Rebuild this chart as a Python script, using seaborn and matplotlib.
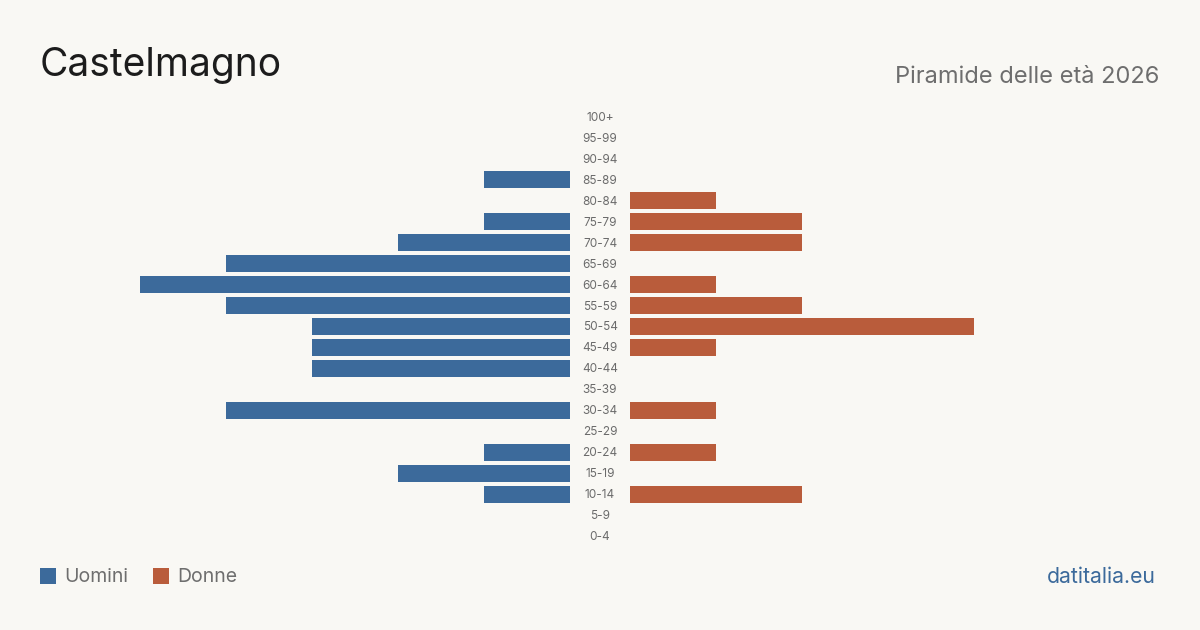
import matplotlib.pyplot as plt
import pandas as pd
import seaborn as sns
from matplotlib.patches import Rectangle

AGE_GROUPS = [
	"100+", "95-99", "90-94", "85-89", "80-84", "75-79", "70-74", "65-69",
	"60-64", "55-59", "50-54", "45-49", "40-44", "35-39", "30-34", "25-29",
	"20-24", "15-19", "10-14", "5-9", "0-4",
]
MEN = [0, 0, 0, 1, 0, 1, 2, 4, 5, 4, 3, 3, 3, 0, 4, 0, 1, 2, 1, 0, 0]
WOMEN = [0, 0, 0, 0, 1, 2, 2, 0, 1, 2, 4, 1, 0, 0, 1, 0, 1, 0, 2, 0, 0]

TITLE = "Castelmagno"
SUBTITLE = "Piramide delle età 2026"
SOURCE = "datitalia.eu"

BG = "#f9f8f4"
BLUE = "#3c6a9b"
ORANGE = "#b95c3b"


def main() -> None:
	sns.set_theme(style="white")
	plt.rcParams["font.family"] = ["Inter", "DejaVu Sans"]

	df = pd.DataFrame({"age": AGE_GROUPS, "men": MEN, "women": WOMEN})
	vmax = max(max(MEN), max(WOMEN))

	W, H = 1200, 630
	fig = plt.figure(figsize=(12, 6.3), dpi=100, facecolor=BG)
	top, bottom = 106.5, 546.5
	ax_m = fig.add_axes([140 / W, 1 - bottom / H, 430 / W, (bottom - top) / H])
	ax_w = fig.add_axes([630 / W, 1 - bottom / H, 430 / W, (bottom - top) / H])

	sns.barplot(data=df, y="age", x="men", order=AGE_GROUPS, color=BLUE,
		orient="h", width=0.8, saturation=1, linewidth=0, ax=ax_m)
	sns.barplot(data=df, y="age", x="women", order=AGE_GROUPS, color=ORANGE,
		orient="h", width=0.8, saturation=1, linewidth=0, ax=ax_w)

	ax_m.set_xlim(vmax, 0)
	ax_w.set_xlim(0, vmax)
	for ax in (ax_m, ax_w):
		ax.set_ylim(len(AGE_GROUPS) - 0.5, -0.5)
		ax.set_facecolor("none")
		ax.axis("off")

	# age labels between the two halves
	for i, label in enumerate(AGE_GROUPS):
		y = 1 - (top + 1 + (i + 0.5) * (bottom - top) / len(AGE_GROUPS)) / H
		fig.text(600 / W, y, label, ha="center", va="center", fontsize=8.5, color="#6b6b6b")

	fig.text(40 / W, 1 - 66 / H, TITLE, ha="left", va="center", fontsize=28, color="#1c1c1c")
	fig.text(1159 / W, 1 - 77 / H, SUBTITLE, ha="right", va="center", fontsize=17, color="#6e6e6e")
	fig.text(1156 / W, 1 - 577 / H, SOURCE, ha="right", va="center", fontsize=15.3, color=BLUE)

	# legend
	for x0, color, name in [(40, BLUE, "Uomini"), (153, ORANGE, "Donne")]:
		fig.patches.append(Rectangle((x0 / W, 1 - 584 / H), 16 / W, 16 / H,
			transform=fig.transFigure, facecolor=color, edgecolor="none"))
		fig.text((x0 + 24) / W, 1 - 577 / H, name, ha="left", va="center", fontsize=14, color="#6e6e6e")

	fig.savefig("out.png", dpi=100, facecolor=BG)
	plt.close(fig)


if __name__ == "__main__":
	main()
